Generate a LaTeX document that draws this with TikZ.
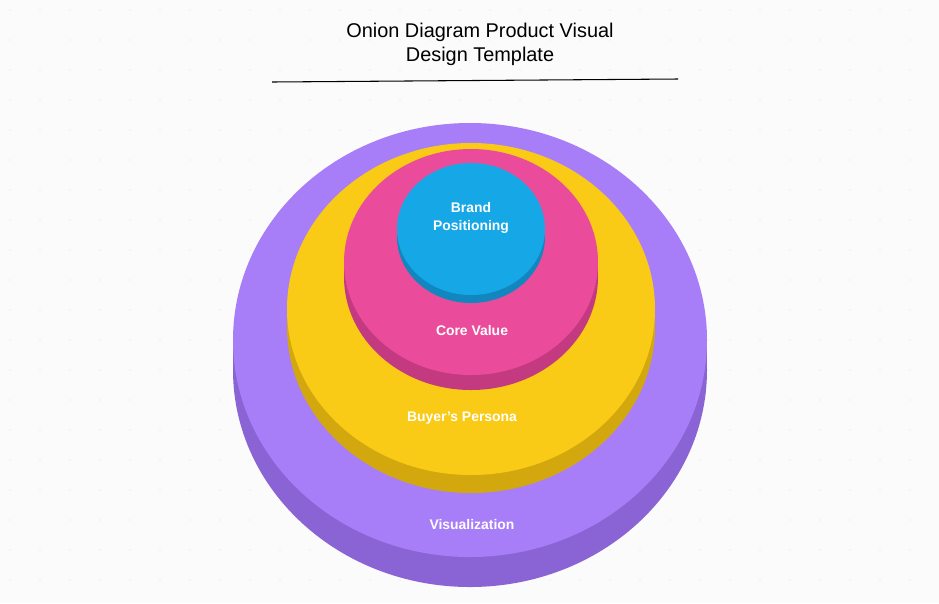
\documentclass[tikz,border=0pt]{standalone}
\usepackage{fontspec}
\setmainfont{Liberation Sans}
\definecolor{violetTop}{HTML}{A87EF8}
\definecolor{violetSide}{HTML}{8A64D4}
\definecolor{yellowTop}{HTML}{F9CA16}
\definecolor{yellowSide}{HTML}{D3A80E}
\definecolor{pinkTop}{HTML}{EA4C9B}
\definecolor{pinkSide}{HTML}{C43A80}
\definecolor{blueTop}{HTML}{16A7E6}
\definecolor{blueSide}{HTML}{1286BE}
% layer: center x, center y, rx, ry, depth, top colour, side colour, name
\newcommand{\onionlayer}[8]{%
  \fill[#7] (#1,#2+#5) ellipse [x radius=#3, y radius=#4];
  \fill[#7] (#1-#3,#2) rectangle (#1+#3,#2+#5);
  \fill[#6] (#1,#2) ellipse [x radius=#3, y radius=#4];
  \coordinate (#8) at (#1,#2);
}
\begin{document}
\begin{tikzpicture}[x=0.0265cm,y=-0.0265cm,
    ringlabel/.style={text=white,font=\bfseries\fontsize{10.5}{13}\selectfont,align=center}]
  \useasboundingbox (0,0) rectangle (939,603);
  \fill[gray!3] (0,0) rectangle (939,603);
  % dotted grid
  \foreach \gx in {10,40,...,930}
    \foreach \gy in {10,40,...,600}
      \fill[gray!25] (\gx,\gy) circle [radius=0.6];
  \node[font=\fontsize{15}{18}\selectfont,align=center] (title) at (480,44)
    {Onion Diagram Product Visual\\Design Template};
  \coordinate (ruleL) at (272,82);
  \coordinate (ruleR) at (678,79);
  \draw[line width=0.8pt] (ruleL) -- (ruleR);
  \onionlayer{470}{340}{237}{217}{30}{violetTop}{violetSide}{vis}
  \onionlayer{471}{309}{184}{166}{18}{yellowTop}{yellowSide}{buyer}
  \onionlayer{471}{262}{127}{113}{15}{pinkTop}{pinkSide}{core}
  \onionlayer{471}{229}{74}{66}{8}{blueTop}{blueSide}{brand}
  \node[ringlabel] (brandtxt) at (471,218) {Brand\\Positioning};
  \node[ringlabel] (coretxt) at (472,331) {Core Value};
  \node[ringlabel] (buyertxt) at (462,418) {Buyer's Persona};
  \node[ringlabel] (vistxt) at (472,525) {Visualization};
\end{tikzpicture}
\end{document}
